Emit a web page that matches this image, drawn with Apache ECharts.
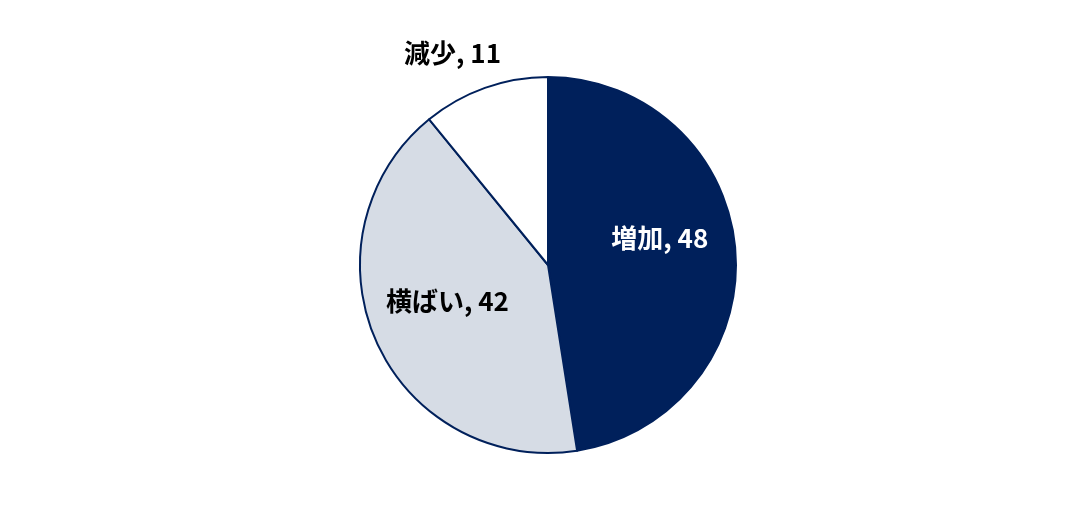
<!DOCTYPE html>
<html>
<head>
<meta charset="utf-8">
<script src="https://cdn.jsdelivr.net/npm/echarts@6/dist/echarts.min.js"></script>
<style>
  html, body { margin: 0; padding: 0; background: #fff; }
  #chart { width: 1091px; height: 520px; }
</style>
</head>
<body>
<div id="chart"></div>
<script>
// 回答の内訳
const categories = ["増加", "横ばい", "減少"];
const values = [48, 42, 11];
const colors = ["#00205B", "#D6DCE5", "#FFFFFF"];
const labelColors = ["#FFFFFF", "#000000", "#000000"];
const labelOffsets = [[15, -19], [-12, -3], [-63, -120]];

const chart = echarts.init(document.getElementById("chart"));

const option = {
  animation: false,
  series: [
    {
      type: "pie",
      center: [548, 265],
      radius: [0, 188],
      startAngle: 90,
      clockwise: true,
      avoidLabelOverlap: false,
      itemStyle: { borderColor: "#00205B", borderWidth: 2 },
      label: {
        show: true,
        position: "inside",
        fontFamily: "Noto Sans CJK JP",
        fontWeight: "bold",
        fontSize: 26,
        formatter: p => p.name + ", " + p.value
      },
      labelLine: { show: false },
      emphasis: { disabled: true },
      data: categories.map((name, i) => ({
        name,
        value: values[i],
        itemStyle: { color: colors[i] },
        label: { color: labelColors[i], offset: labelOffsets[i] }
      }))
    }
  ]
};

chart.setOption(option);
</script>
</body>
</html>
